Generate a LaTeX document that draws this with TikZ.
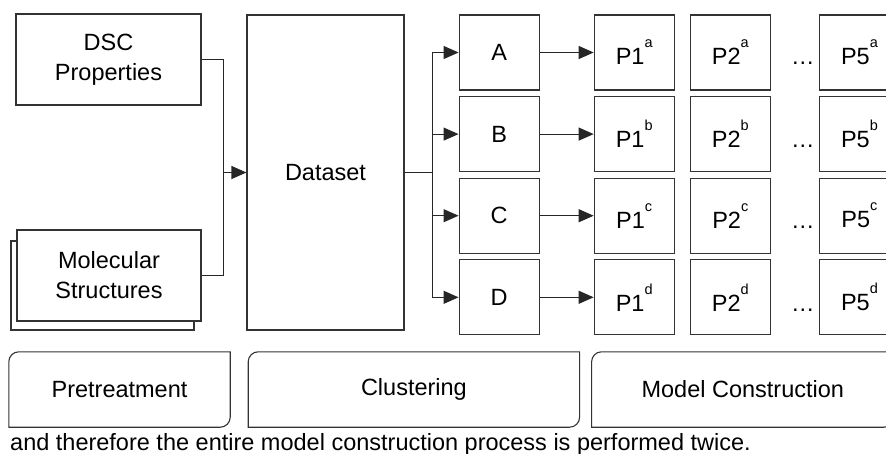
\documentclass[tikz,border=0pt]{standalone}
\usepackage{fontspec}
\setmainfont{Liberation Sans}
\usetikzlibrary{calc,positioning,arrows.meta}
\tikzset{
    bloque/.style={rectangle,draw=black!80,line width=1.1pt,fill=white,align=center,inner sep=0pt},
    celda/.style={bloque,minimum width=80pt,minimum height=75pt},
    flecha/.style={draw=black!85,line width=1.1pt,-{Triangle[length=15pt,width=13pt]}},
    linea/.style={draw=black!85,line width=1.1pt},
    etapa/.style={draw=black!80,line width=1.1pt},
}
\newcommand{\indice}[1]{\raisebox{17pt}{\fontsize{14.5}{15}\selectfont #1}}

\begin{document}
\begin{tikzpicture}[x=1pt,y=-1pt,
    every node/.style={font=\fontsize{23.5}{30}\selectfont},
]
    \useasboundingbox (0,0) rectangle (886,453);
    \clip (0,0) rectangle (886,453);

    \node [bloque,minimum width=185pt,minimum height=91pt] (dsc) at (108.5,59.5) {DSC\\Properties};
    \node [bloque,minimum width=183pt,minimum height=89pt] (molfondo) at (102.5,285.5) {};
    \node [bloque,minimum width=184pt,minimum height=91pt] (mol) at (109,275.5) {Molecular\\Structures};
    \node [bloque,minimum width=157pt,minimum height=315pt] (dataset) at (325.5,172.5) {Dataset};

    \coordinate [left=23pt of dataset.west] (union);
    \path [linea] (dsc.east) -| (union) |- (mol.east);
    \path [flecha] (union) -- (dataset.west);

    \node [celda,right=54pt of dataset.north east,anchor=north west] (A) {A};
    \node [celda,below=5.5pt of A] (B) {B};
    \node [celda,below=5.5pt of B] (C) {C};
    \node [celda,below=5.5pt of C] (D) {D};

    \coordinate [right=28pt of dataset.east] (reparto);
    \path [linea] (dataset.east) -- (reparto);
    \foreach \g/\s in {A/a,B/b,C/c,D/d} {
        \path [flecha] (reparto) |- (\g.west);
        \node [celda,right=54pt of \g] (P1\s) {P1\indice{\s}};
        \node [celda,right=15pt of P1\s] (P2\s) {P2\indice{\s}};
        \node [celda,right=48pt of P2\s] (P5\s) {P5\indice{\s}};
        \node [anchor=base west,inner sep=0pt,xshift=20pt] (puntos\s) at (P2\s.east |- P1\s.base) {…};
        \path [flecha] (\g) -- (P1\s);
    }

    \node [minimum width=221pt,minimum height=75pt] (pre) at (119.5,389.5) {Pretreatment};
    \node [minimum width=331pt,minimum height=75pt,right=18pt of pre] (clu) {Clustering};
    \node [minimum width=302pt,minimum height=75pt,right=12pt of clu] (mod) {Model Construction};
    \foreach \e in {pre,clu,mod}
        \draw [etapa] (\e.south west) -- ([yshift=-10pt]\e.north west) arc (180:90:10pt)
            -- (\e.north east) -- ([yshift=10pt]\e.south east) arc (0:-90:10pt) -- cycle;

    \node [anchor=base west,inner sep=0pt] (nota) at (10,450) {and therefore the entire model construction process is performed twice.};
\end{tikzpicture}
\end{document}
